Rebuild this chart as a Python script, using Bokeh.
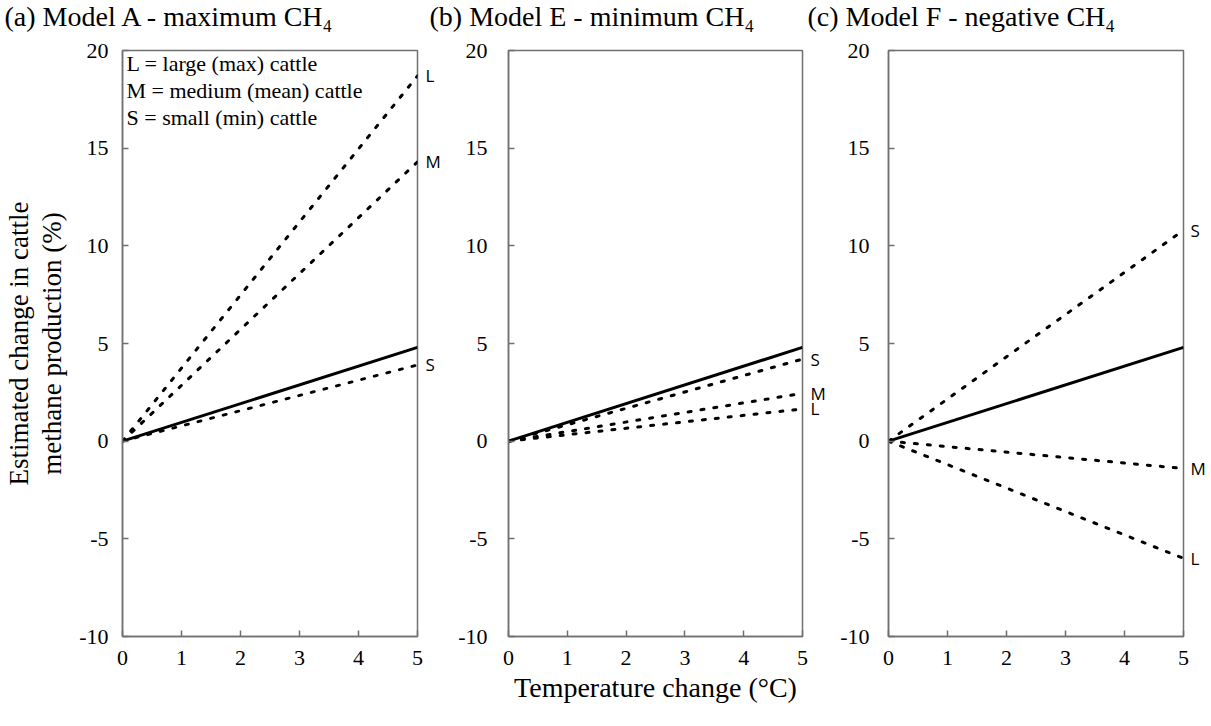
from bokeh.plotting import figure
from bokeh.models import Label, FixedTicker, Range1d, LinearAxis
from bokeh.layouts import row, column
from bokeh.embed import file_html
from bokeh.resources import INLINE

# ---------------- data ----------------
temperature = [0, 5]
solid_change = [0, 4.8]

a_large = [0, 18.7]
a_medium = [0, 14.3]
a_small = [0, 3.9]

b_small = [0, 4.2]
b_medium = [0, 2.45]
b_large = [0, 1.65]

c_small = [0, 10.8]
c_medium = [0, -1.4]
c_large = [0, -6.0]

x_ticks = [0, 1, 2, 3, 4, 5]
y_ticks = [-10, -5, 0, 5, 10, 15, 20]
y_tick_labels = ["-10", "-5", "0", "5", "10", "15", "20"]

panel_titles = ["(a) Model A - maximum CH\u2084",
                "(b) Model E - minimum CH\u2084",
                "(c) Model F - negative CH\u2084"]
legend_lines = ["L = large (max) cattle",
                "M = medium (mean) cattle",
                "S = small (min) cattle"]
x_title = "Temperature change (\u00b0C)"
y_title = ["Estimated change in cattle", "methane production (%)"]

SERIF = "Liberation Serif"
SANS = "Open Sans"
GRAY = "#707070"


def make_panel(series, left, right, standoff, fw, end_standoff):
    p = figure(frame_width=fw, frame_height=586,
               x_range=Range1d(0, 5), y_range=Range1d(-10, 20),
               min_border_left=left, min_border_right=right,
               min_border_top=14, min_border_bottom=74,
               toolbar_location=None, output_backend="svg",
               background_fill_color="white", border_fill_color="white")
    p.grid.visible = False
    p.outline_line_color = GRAY
    p.outline_line_width = 1.5
    p.axis.axis_line_color = GRAY
    p.axis.axis_line_width = 1.5
    p.axis.major_tick_line_color = GRAY
    p.axis.major_tick_line_width = 1.5
    p.axis.major_tick_in = 6
    p.axis.major_tick_out = 0
    p.axis.minor_tick_line_color = None
    p.axis.major_label_text_font = SERIF
    p.axis.major_label_text_font_size = "22px"
    p.axis.major_label_text_color = "black"
    p.xaxis.ticker = FixedTicker(ticks=x_ticks)
    p.yaxis.ticker = FixedTicker(ticks=y_ticks)
    p.yaxis.major_label_overrides = {t: s for t, s in zip(y_ticks, y_tick_labels)}
    p.xaxis.major_label_standoff = 14
    p.yaxis.major_label_standoff = standoff

    p.line(temperature, solid_change, line_color="black", line_width=3)
    for name, vals in series:
        p.line(temperature, vals, line_color="black", line_width=3,
               line_dash="3 10", line_cap="round")

    # series end labels (L / M / S) as a tick-only axis on the right
    ends = LinearAxis(ticker=FixedTicker(ticks=[v[-1] for _, v in series]),
                      major_label_overrides={v[-1]: n for n, v in series},
                      axis_line_color=None, major_tick_line_color=None,
                      minor_tick_line_color=None, major_tick_in=0, major_tick_out=0,
                      major_label_standoff=end_standoff,
                      major_label_text_font=SANS, major_label_text_font_size="17px",
                      major_label_text_color="black")
    p.add_layout(ends, "right")
    return p


pa = make_panel([("L", a_large), ("M", a_medium), ("S", a_small)], 114, 38, 14, 295, 8)
pb = make_panel([("S", b_small), ("M", b_medium), ("L", b_large)], 52, 35, 21, 294, 8)
pc = make_panel([("S", c_small), ("M", c_medium), ("L", c_large)], 50, 22, 19, 295, 7)

# legend text inside panel (a)
for txt, yy in zip(legend_lines, [19.33, 17.95, 16.57]):
    pa.add_layout(Label(x=0, y=yy, text=txt, x_offset=4, text_baseline="middle",
                        text_font=SERIF, text_font_size="22px", text_color="black"))

# y-axis title: two lines, each on a blank outer axis (second line nearest the ticks)
for txt, so in ((y_title[1], 10), (y_title[0], 0)):
    ax = LinearAxis(ticker=FixedTicker(ticks=[]), axis_label=txt,
                    axis_line_color=None, major_tick_line_color=None,
                    minor_tick_line_color=None, major_tick_in=0, major_tick_out=0,
                    axis_label_standoff=so, axis_label_text_font=SERIF,
                    axis_label_text_font_size="27px", axis_label_text_font_style="normal",
                    axis_label_text_color="black")
    pa.add_layout(ax, "left")

# x-axis title
pb.xaxis[0].axis_label = x_title
pb.xaxis[0].axis_label_text_font = SERIF
pb.xaxis[0].axis_label_text_font_size = "28px"
pb.xaxis[0].axis_label_text_font_style = "normal"
pb.xaxis[0].axis_label_text_color = "black"
pb.xaxis[0].axis_label_standoff = 4

# title strip
W = 1195
pt = figure(width=W, height=36, x_range=Range1d(0, W), y_range=Range1d(0, 1),
            min_border=0, toolbar_location=None, output_backend="svg",
            x_axis_location=None, y_axis_location=None,
            background_fill_color="white", border_fill_color="white")
pt.grid.visible = False
pt.outline_line_color = None
for txt, xx in zip(panel_titles, [4, 429, 807]):
    pt.add_layout(Label(x=xx, y=0.55, text=txt, text_baseline="middle",
                        text_font=SERIF, text_font_size="28px", text_color="black"))

layout = column(pt, row(pa, pb, pc, spacing=0), spacing=0)
open("out.html", "w").write(file_html(layout, INLINE))
